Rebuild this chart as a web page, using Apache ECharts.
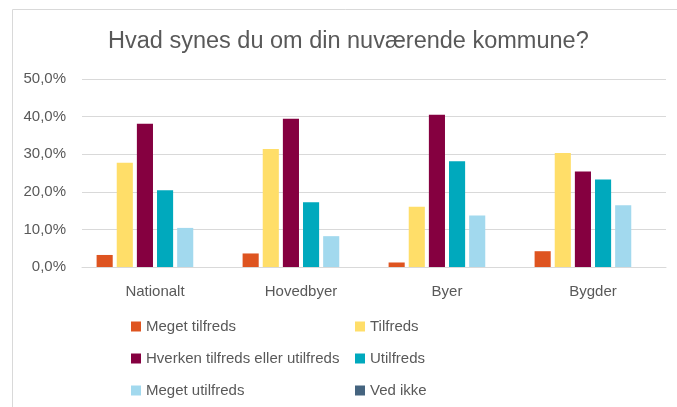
<!DOCTYPE html>
<html>
<head>
<meta charset="utf-8">
<script src="https://cdn.jsdelivr.net/npm/echarts@6/dist/echarts.min.js"></script>
<style>
html,body{margin:0;padding:0;background:#fff;}
#c{width:677px;height:407px;}
</style>
</head>
<body>
<div id="c"></div>
<script>
var titleText = 'Hvad synes du om din nuværende kommune?';
var categories = ['Nationalt', 'Hovedbyer', 'Byer', 'Bygder'];
var seriesNames = ['Meget tilfreds', 'Tilfreds', 'Hverken tilfreds eller utilfreds', 'Utilfreds', 'Meget utilfreds', 'Ved ikke'];
var megetTilfreds = [3.2, 3.6, 1.2, 4.2];
var tilfreds = [27.7, 31.4, 16.0, 30.3];
var hverken = [38.1, 39.4, 40.5, 25.4];
var utilfreds = [20.4, 17.2, 28.1, 23.3];
var megetUtilfreds = [10.4, 8.2, 13.7, 16.4];
var vedIkke = [0, 0, 0, 0];
var seriesValues = [megetTilfreds, tilfreds, hverken, utilfreds, megetUtilfreds, vedIkke];
var colors = ['#DE5420', '#FFDE69', '#850040', '#00A9BD', '#A2D9EE', '#45647F'];

var FONT = '"Liberation Sans", Arial, sans-serif';
var chart = echarts.init(document.getElementById('c'), null, {renderer: 'canvas'});
var series = seriesNames.map(function (n, i) {
  return {
    name: n,
    type: 'bar',
    data: seriesValues[i],
    itemStyle: {color: colors[i]},
    barGap: '25%',
    barCategoryGap: '20%'
  };
});
function legendCol(left, names) {
  return {
    orient: 'vertical',
    left: left,
    top: 318.5,
    height: 100,
    padding: 0,
    itemWidth: 10,
    itemHeight: 10,
    itemGap: 16,
    icon: 'rect',
    data: names,
    textStyle: {fontFamily: FONT, fontSize: 15, color: '#595959', lineHeight: 16}
  };
}
chart.setOption({
  animation: false,
  color: colors,
  title: {
    text: titleText,
    left: 103,
    top: 25,
    textStyle: {fontFamily: FONT, fontSize: 23.5, fontWeight: 'normal', color: '#595959'}
  },
  graphic: [{
    type: 'rect',
    shape: {x: 12.5, y: 9.5, width: 700, height: 500},
    style: {fill: 'none', stroke: '#D9D9D9', lineWidth: 1},
    silent: true
  }],
  legend: [
    legendCol(131, [seriesNames[0], seriesNames[2], seriesNames[4]]),
    legendCol(355, [seriesNames[1], seriesNames[3], seriesNames[5]])
  ],
  grid: {left: 82, right: 11, top: 79, bottom: 140, containLabel: false},
  xAxis: {
    type: 'category',
    data: categories,
    axisLine: {show: true, lineStyle: {color: '#D9D9D9', width: 1}},
    axisTick: {show: false},
    axisLabel: {fontFamily: FONT, fontSize: 15, color: '#595959', margin: 17}
  },
  yAxis: {
    type: 'value',
    min: 0,
    max: 50,
    interval: 10,
    axisLine: {show: false},
    axisTick: {show: false},
    splitLine: {lineStyle: {color: '#D9D9D9', width: 1}},
    axisLabel: {
      fontFamily: FONT, fontSize: 15, color: '#595959', margin: 16,
      formatter: function (v) { return v.toFixed(1).replace('.', ',') + '%'; }
    }
  },
  series: series
});
</script>
</body>
</html>
